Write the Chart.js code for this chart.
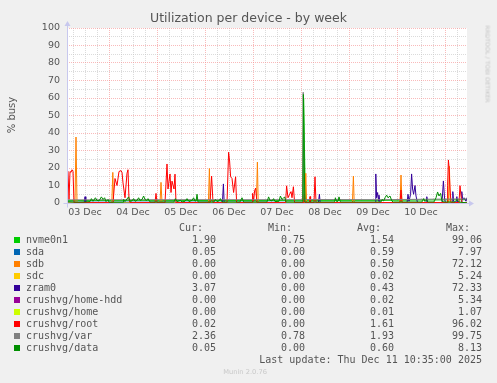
<!DOCTYPE html>
<html>
<head>
<meta charset="utf-8">
<script src="https://cdn.jsdelivr.net/npm/chart.js@4.4.1/dist/chart.umd.min.js"></script>
<style>
html,body{margin:0;padding:0;background:#f0f0f0;}
#wrap{position:relative;width:497px;height:383px;overflow:hidden;font-family:"DejaVu Sans",sans-serif;color:#555;}
#c{position:absolute;left:0;top:0;}
.t{position:absolute;white-space:pre;line-height:12px;}
.mono{font-family:"DejaVu Sans Mono",monospace;font-size:10px;color:#555;}
.sw{position:absolute;width:6px;height:6px;}
</style>
</head>
<body>
<div id="wrap">
<canvas id="c" width="497" height="383"></canvas>
<div class="t" id="title" style="left:0;width:497px;text-align:center;top:12px;font-size:12.5px;color:#555;">Utilization per device - by week</div>
<div class="t" style="left:-8px;top:109px;width:40px;text-align:center;font-size:10px;transform:rotate(-90deg);">% busy</div>
<div class="t" style="left:449px;top:58px;width:77px;text-align:center;font-size:6px;color:#c4c4c4;transform:rotate(90deg);">RRDTOOL / TOBI OETIKER</div>
<div id="legend"></div>
</div>
<script>
// time axis is in hours since 03 Dec 00:00, graph covers 03 Dec 03:00 -> 11 Dec 11:00
const hourMin = 3, hourMax = 203;
const dayLabels = ['03 Dec','04 Dec','05 Dec','06 Dec','07 Dec','08 Dec','09 Dec','10 Dec'];

const names = ['nvme0n1','sda','sdb','sdc','zram0','crushvg/home-hdd','crushvg/home','crushvg/root','crushvg/var','crushvg/data'];
const colors = ['#00cc00','#0066b3','#ff8000','#ffcc00','#330099','#990099','#ccff00','#ff0000','#808080','#008f00'];
const curVals = [1.90,0.05,0.00,0.00,3.07,0.00,0.00,0.02,2.36,0.05];
const minVals = [0.75,0.00,0.00,0.00,0.00,0.00,0.00,0.00,0.78,0.00];
const avgVals = [1.54,0.59,0.50,0.02,0.43,0.02,0.01,1.61,1.93,0.60];
const maxVals = [99.06,7.97,72.12,5.24,72.33,5.34,1.07,96.02,99.75,8.13];

// [hour, % busy]
const nvmePts = [[3,1.4],[40,1.5],[80,1.4],[121,1.5],[121.3,60],[122.2,1.5],[160,1.5],[203,1.9]];
const sdaPts = [[3,0.5],[100,0.5],[203,0.05]];
const sdbPts = [[3,0],[7,0],[7.5,37.7],[8,0],[25.4,0],[25.9,17.5],[26.3,0],[49.5,0],[50,11.8],[50.5,0],
  [73.7,0],[74.2,19.7],[74.6,0],[97.7,0],[98.2,23.4],[98.6,0],[121.9,0],[122.4,17],[122.8,0],
  [145.7,0],[146.2,15.4],[146.6,0],[169.5,0],[170,16],[170.5,0],[193.7,0],[194.2,21],[194.6,0],[203,0]];
const sdcPts = [[3,0],[203,0]];
const zramPts = [[3,0],[11.6,0],[12,3.6],[12.4,0],[80.7,0],[81.2,10.9],[81.6,0],[128.7,0],[129.2,5],[129.6,0],
  [157,0],[157.4,16.6],[157.8,3],[158.3,6],[158.8,1],[159,4.5],[159.5,0],
  [173,0],[173.5,5],[174,1],[174.8,5],[175.3,16.6],[175.8,8],[176.3,5],[177,10],[177.5,4],[178.3,0],
  [182.5,0],[182.9,3.6],[183.3,0],[190.5,0],[191.2,12.6],[191.8,2],[192.3,0],
  [195.5,0],[195.9,6.5],[196.3,1],[197.5,0],[197.9,3.6],[198.3,0],
  [200,0],[200.4,6.5],[200.8,2],[201.5,3],[202.5,1],[203,3.07]];
const homeHddPts = [[3,0],[203,0]];
const homePts = [[3,0],[203,0]];
const rootPts = [[3,19],[3.5,18],[4,2],[4.5,18],[5,17.5],[5.5,19],[6,18],[6.5,0.2],
  [26,0.2],[27,14],[28,10],[29,18],[30,18.5],[30.5,17.5],[31,11.5],[32,3],[33,17],[33.5,19],[34,2],[34.5,0.2],
  [47,0.2],[47.5,5.5],[48,0.2],
  [52,0.2],[53,22.3],[53.5,8],[54.5,16.6],[55,6],[55.5,12.5],[56.5,8],[57,16.5],[57.5,0.2],
  [74.5,0.2],[75.3,15.4],[76,0.2],
  [83,0.2],[83.8,29],[84.3,24],[84.8,15],[85.5,14],[86.3,6],[87.3,15],[87.8,0.2],
  [95.5,0.2],[95.8,5.5],[96.3,1],[96.8,7],[97.3,8.5],[98,0.2],
  [112.3,0.2],[112.8,9.8],[113.5,3],[114.3,5],[115,6.5],[115.5,3],[116.2,9.3],[116.8,0.2],
  [121.3,0.2],[121.7,5],[122,0.2],[124.2,0.2],[124.5,3.7],[124.8,0.2],[126.5,0.2],[127,15],[127.5,0.2],
  [169.5,0.2],[170,7.4],[170.5,0.2],
  [193,0.2],[193.3,10],[193.7,24.6],[194,20.8],[194.5,8],[195,0.2],
  [199,0.2],[199.5,9.9],[200,4],[200.5,0.2],[203,0.02]];
const varPts = [[3,1.8],[60,1.9],[120.8,1.9],[121.1,63.3],[121.6,2],[160,1.9],[203,2.36]];
const dataPts = [[3,0.8],[8,0.5],[12,0.6],[14.5,0.8],[15.2,2.5],[16,1],[17.2,3],[18,1.5],[19,1.2],[20.2,3.5],
  [21,2],[21.8,3],[22.5,0.8],[23.5,2],[24,0.5],[31,0.5],[31.3,2],[32,0.8],[33.8,3.5],[34.5,1],[35.5,1.2],
  [36.3,2.5],[37,1],[38,1.5],[38.8,3],[39.5,1.5],[40.5,2],[41.3,4],[42,2],[42.8,1.5],[43.5,2.5],[44.5,0.6],
  [56.5,0.6],[57.2,2.5],[58,0.8],[59.7,1.5],[60.5,0.6],[62,1],[63,2.5],[64,0.8],[65.5,1.5],[66.3,3],[67,1],
  [67.6,1.5],[68,5],[68.5,0.6],[76.5,0.6],[77.2,2],[78,0.8],[79,1.2],[79.7,2.5],[80.5,0.6],[89.5,0.6],
  [90.5,3],[91.3,0.6],[103,0.6],[103.8,3.5],[104.5,1.5],[105.5,1.2],[106.3,2.5],[107,0.8],[109,1],[109.7,4],
  [110.5,2],[111,2.5],[111.8,3.5],[112.5,0.6],[120.9,0.6],[121.2,62],[121.9,0.6],[136.8,0.6],[137.2,3],
  [137.8,0.8],[138.5,1],[139,3.5],[139.7,0.6],[160,0.6],[160.5,2],[161.3,1.2],[162,3],[162.8,4.5],[163.5,3],
  [164.5,4],[165.5,1],[166.2,0.6],[180.5,0.6],[181.3,2.5],[182,0.8],[182.8,2],[183.3,0.6],[186.5,0.6],
  [187.5,3],[188.3,6.3],[189,4],[189.8,5.5],[190.5,1],[191.5,0.6],[197,0.6],[198,2],[199,0.6],[203,0.05]];

const allPts = [nvmePts,sdaPts,sdbPts,sdcPts,zramPts,homeHddPts,homePts,rootPts,varPts,dataPts];

const RED = 'rgba(245,140,140,0.6)', GREY = 'rgba(200,200,200,0.65)', AXIS = '#c8c8ee';

// white plot area + axis arrows like rrdtool
const rrdLook = {
  id: 'rrdLook',
  beforeDraw(chart) {
    const a = chart.chartArea, ctx = chart.ctx;
    ctx.save(); ctx.fillStyle = '#fff';
    ctx.fillRect(a.left, a.top, a.right - a.left, a.bottom - a.top);
    ctx.restore();
  },
  afterDraw(chart) {
    const a = chart.chartArea, ctx = chart.ctx;
    const l = Math.round(a.left) + 0.5, b = Math.round(a.bottom) + 0.5;
    ctx.save();
    ctx.strokeStyle = AXIS; ctx.fillStyle = AXIS; ctx.lineWidth = 1;
    ctx.beginPath();
    ctx.moveTo(l - 4, b); ctx.lineTo(a.right + 3, b);
    ctx.moveTo(l, b + 4); ctx.lineTo(l, a.top - 3);
    ctx.stroke();
    ctx.beginPath();
    ctx.moveTo(a.right + 7, b); ctx.lineTo(a.right + 2, b - 3); ctx.lineTo(a.right + 2, b + 3); ctx.closePath();
    ctx.moveTo(l, a.top - 7); ctx.lineTo(l - 3, a.top - 2); ctx.lineTo(l + 3, a.top - 2); ctx.closePath();
    ctx.fill();
    ctx.restore();
  }
};

const datasets = names.map((n, i) => ({
  label: n,
  data: allPts[i].map(p => ({x: p[0], y: p[1]})),
  borderColor: colors[i],
  borderWidth: 1,
  pointRadius: 0,
  tension: 0,
  fill: false,
  order: names.length - 1 - i
}));

const tickFont = {family: 'DejaVu Sans', size: 9.5};

new Chart(document.getElementById('c'), {
  type: 'line',
  data: {datasets},
  plugins: [rrdLook],
  options: {
    responsive: false,
    animation: false,
    layout: {padding: {left: 0, right: 30, top: 28, bottom: 160}},
    plugins: {legend: {display: false}, tooltip: {enabled: false}, title: {display: false}},
    scales: {
      x: {
        type: 'linear', min: hourMin, max: hourMax,
        afterFit: s => { s.height = 20; },
        afterBuildTicks: s => { const t = []; for (let h = 6; h < hourMax; h += 6) t.push({value: h}); s.ticks = t; },
        grid: {drawTicks: false, color: c => (c.tick && c.tick.value % 24 === 0) ? RED : GREY, lineWidth: 1},
        border: {display: false, dash: [1, 1]},
        ticks: {autoSkip: false, maxRotation: 0, padding: 4, color: '#555', font: tickFont,
          callback: v => ((v - 12) % 24 === 0 ? dayLabels[(v - 12) / 24] : '')}
      },
      y: {
        min: 0, max: 100,
        afterFit: s => { s.width = 67; },
        afterBuildTicks: s => { const t = []; for (let v = 0; v <= 100; v += 5) t.push({value: v}); s.ticks = t; },
        grid: {drawTicks: false, color: c => (c.tick && c.tick.value === 0) ? 'rgba(0,0,0,0)' : (c.tick && c.tick.value % 10 === 0 ? RED : GREY), lineWidth: 1},
        border: {display: false, dash: [1, 1]},
        ticks: {autoSkip: false, padding: 7, color: '#555', font: tickFont,
          callback: v => (v % 10 === 0 ? String(v) : '')}
      }
    }
  }
});

// text legend below the graph, munin style
const leg = document.getElementById('legend');
function txt(s, right, center, cls) {
  const d = document.createElement('div');
  d.className = 't ' + (cls || 'mono');
  d.textContent = s;
  d.style.right = (497 - right) + 'px';
  d.style.top = (center - 6) + 'px';
  leg.appendChild(d);
  return d;
}
[['Cur:', 203], ['Min:', 292], ['Avg:', 381], ['Max:', 470]].forEach(h => txt(h[0], h[1], 228));
names.forEach((n, i) => {
  const cy = 239.5 + 12 * i;
  const sw = document.createElement('div');
  sw.className = 'sw'; sw.style.left = '14px'; sw.style.top = (cy - 3) + 'px'; sw.style.background = colors[i];
  leg.appendChild(sw);
  const l = document.createElement('div');
  l.className = 't mono'; l.textContent = n; l.style.left = '26px'; l.style.top = (cy - 6) + 'px';
  leg.appendChild(l);
  txt(curVals[i].toFixed(2), 216, cy);
  txt(minVals[i].toFixed(2), 305, cy);
  txt(avgVals[i].toFixed(2), 394, cy);
  txt(maxVals[i].toFixed(2), 482, cy);
});
txt('Last update: Thu Dec 11 10:35:00 2025', 482, 360);
const mu = txt('Munin 2.0.76', 267, 372, 'x');
mu.style.fontSize = '6.7px'; mu.style.color = '#c8c8c8';
</script>
</body>
</html>
